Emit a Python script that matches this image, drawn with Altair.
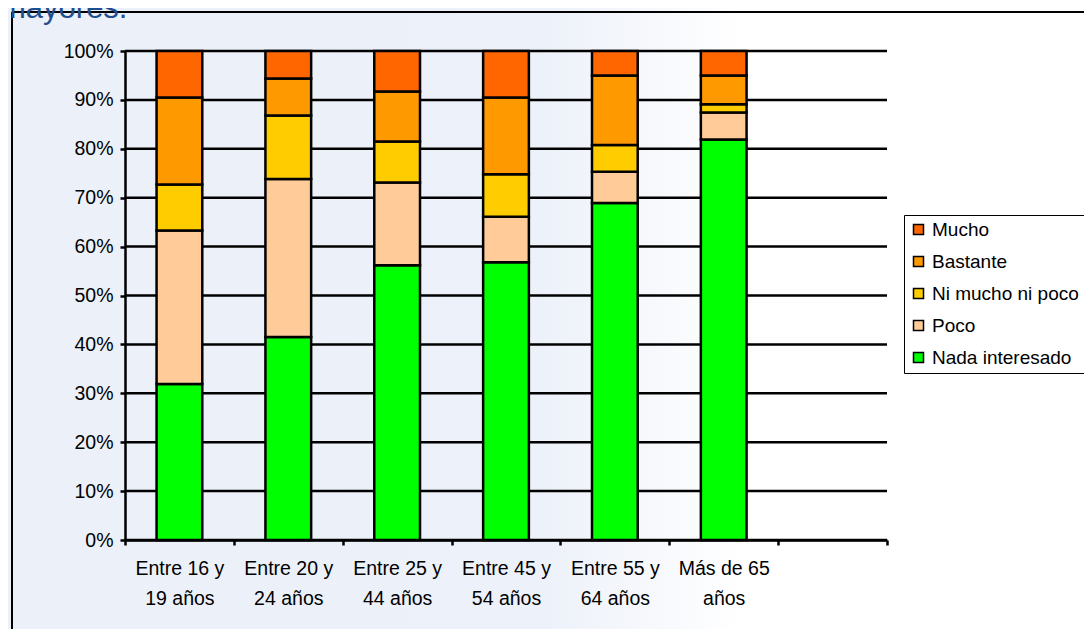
import altair as alt
import pandas as pd

# ---- data ----
categories = [
    "Entre 16 y\n19 años",
    "Entre 20 y\n24 años",
    "Entre 25 y\n44 años",
    "Entre 45 y\n54 años",
    "Entre 55 y\n64 años",
    "Más de 65\naños",
]
empty_slot = "_"
series = ["Nada interesado", "Poco", "Ni mucho ni poco", "Bastante", "Mucho"]
nada = [31.9, 41.5, 56.2, 56.8, 68.9, 81.9]
poco = [31.4, 32.3, 16.9, 9.3, 6.4, 5.5]
ni_mucho = [9.4, 13.0, 8.4, 8.7, 5.5, 1.7]
bastante = [17.8, 7.6, 10.2, 15.7, 14.2, 5.9]
mucho = [9.5, 5.6, 8.3, 9.5, 5.0, 5.0]
series_colors = ["#00FF00", "#FFCC99", "#FFCC00", "#FF9900", "#FF6600"]
y_ticks = [0, 0.1, 0.2, 0.3, 0.4, 0.5, 0.6, 0.7, 0.8, 0.9, 1.0]
title_fragment = "mayores."

FONT = "Liberation Sans, Arial, sans-serif"

values_by_series = [nada, poco, ni_mucho, bastante, mucho]
rows = []
for si, (name, vals) in enumerate(zip(series, values_by_series)):
    for cat, v in zip(categories, vals):
        rows.append({"cat": cat, "serie": name, "value": v, "idx": si})
df = pd.DataFrame(rows)
ticks_df = pd.DataFrame({"t": y_ticks})
one = pd.DataFrame({"a": [0]})

legend_order = list(reversed(series))
legend_colors = list(reversed(series_colors))

y_scale = alt.Scale(domain=[0, 1])
y_axis = alt.Axis(
    title=None,
    values=y_ticks,
    format=".0%",
    grid=False,
    labelFont=FONT,
    labelFontSize=19.5,
    labelColor="black",
    labelPadding=7,
    domainColor="black",
    domainWidth=2.5,
    tickColor="black",
    tickWidth=2.5,
    tickSize=5,
    zindex=1,
)

# background wash
bg = alt.Chart(one).mark_rect(
    fill=alt.Gradient(
        gradient="linear",
        stops=[
            alt.GradientStop(color="#EBF0F9", offset=0),
            alt.GradientStop(color="#EDF1F9", offset=0.5),
            alt.GradientStop(color="#FFFFFF", offset=0.68),
            alt.GradientStop(color="#FFFFFF", offset=1),
        ],
        x1=0, x2=1, y1=0, y2=0,
    )
).encode(x=alt.value(-125), x2=alt.value(967), y=alt.value(-51), y2=alt.value(586))

frame_v = alt.Chart(one).mark_rule(color="black", strokeWidth=2).encode(
    x=alt.value(-113), y=alt.value(-39), y2=alt.value(586)
)
frame_h = alt.Chart(one).mark_rule(color="black", strokeWidth=2).encode(
    x=alt.value(-113), x2=alt.value(967), y=alt.value(-39)
)

grid = alt.Chart(ticks_df).mark_rule(color="black", strokeWidth=2.5).encode(
    y=alt.Y("t:Q", scale=y_scale, axis=y_axis)
)

bars = alt.Chart(df).mark_bar(
    stroke="black", strokeWidth=2.5, width=alt.RelativeBandSize(0.42)
).encode(
    x=alt.X(
        "cat:N",
        sort=categories + [empty_slot],
        scale=alt.Scale(domain=categories + [empty_slot], paddingInner=0, paddingOuter=0),
        axis=alt.Axis(
            title=None,
            labelAngle=0,
            tickBand="extent",
            labelExpr="isString(datum.value) && datum.value != '_' ? split(datum.value, '\\n') : ''",
            labelFont=FONT,
            labelFontSize=19.5,
            labelColor="black",
            labelLineHeight=30,
            labelPadding=14,
            labelLimit=0,
            domainColor="black",
            domainWidth=2.5,
            tickColor="black",
            tickWidth=2.5,
            tickSize=5,
            grid=False,
            zindex=1,
        ),
    ),
    y=alt.Y("value:Q", stack="normalize", scale=y_scale, axis=y_axis),
    color=alt.Color(
        "serie:N",
        scale=alt.Scale(domain=legend_order, range=legend_colors),
        legend=alt.Legend(
            title=None,
            orient="none",
            legendX=779,
            legendY=164,
            padding=5,
            strokeColor="black",
            fillColor="white",
            labelFont=FONT,
            labelFontSize=19,
            labelColor="black",
            labelOffset=4,
            labelLimit=0,
            symbolType="square",
            symbolSize=100,
            symbolStrokeColor="black",
            symbolStrokeWidth=1.5,
            symbolOpacity=1,
            rowPadding=12,
        ),
    ),
    order=alt.Order("idx:Q", sort="ascending"),
)

title_text = alt.Chart(one).mark_text(
    text=title_fragment,
    font=FONT,
    fontSize=31,
    color="#1F4E8F",
    align="left",
    baseline="alphabetic",
).encode(x=alt.value(-125), y=alt.value(-33))

chart = alt.layer(bg, frame_v, frame_h, grid, bars, title_text).properties(
    width=762,
    height=489,
    autosize=alt.AutoSizeParams(type="none"),
    padding={"left": 117, "top": 43, "right": 197, "bottom": 89},
).configure_view(stroke=None)

chart.save("out.html", embed_options={"renderer": "svg", "actions": False})
